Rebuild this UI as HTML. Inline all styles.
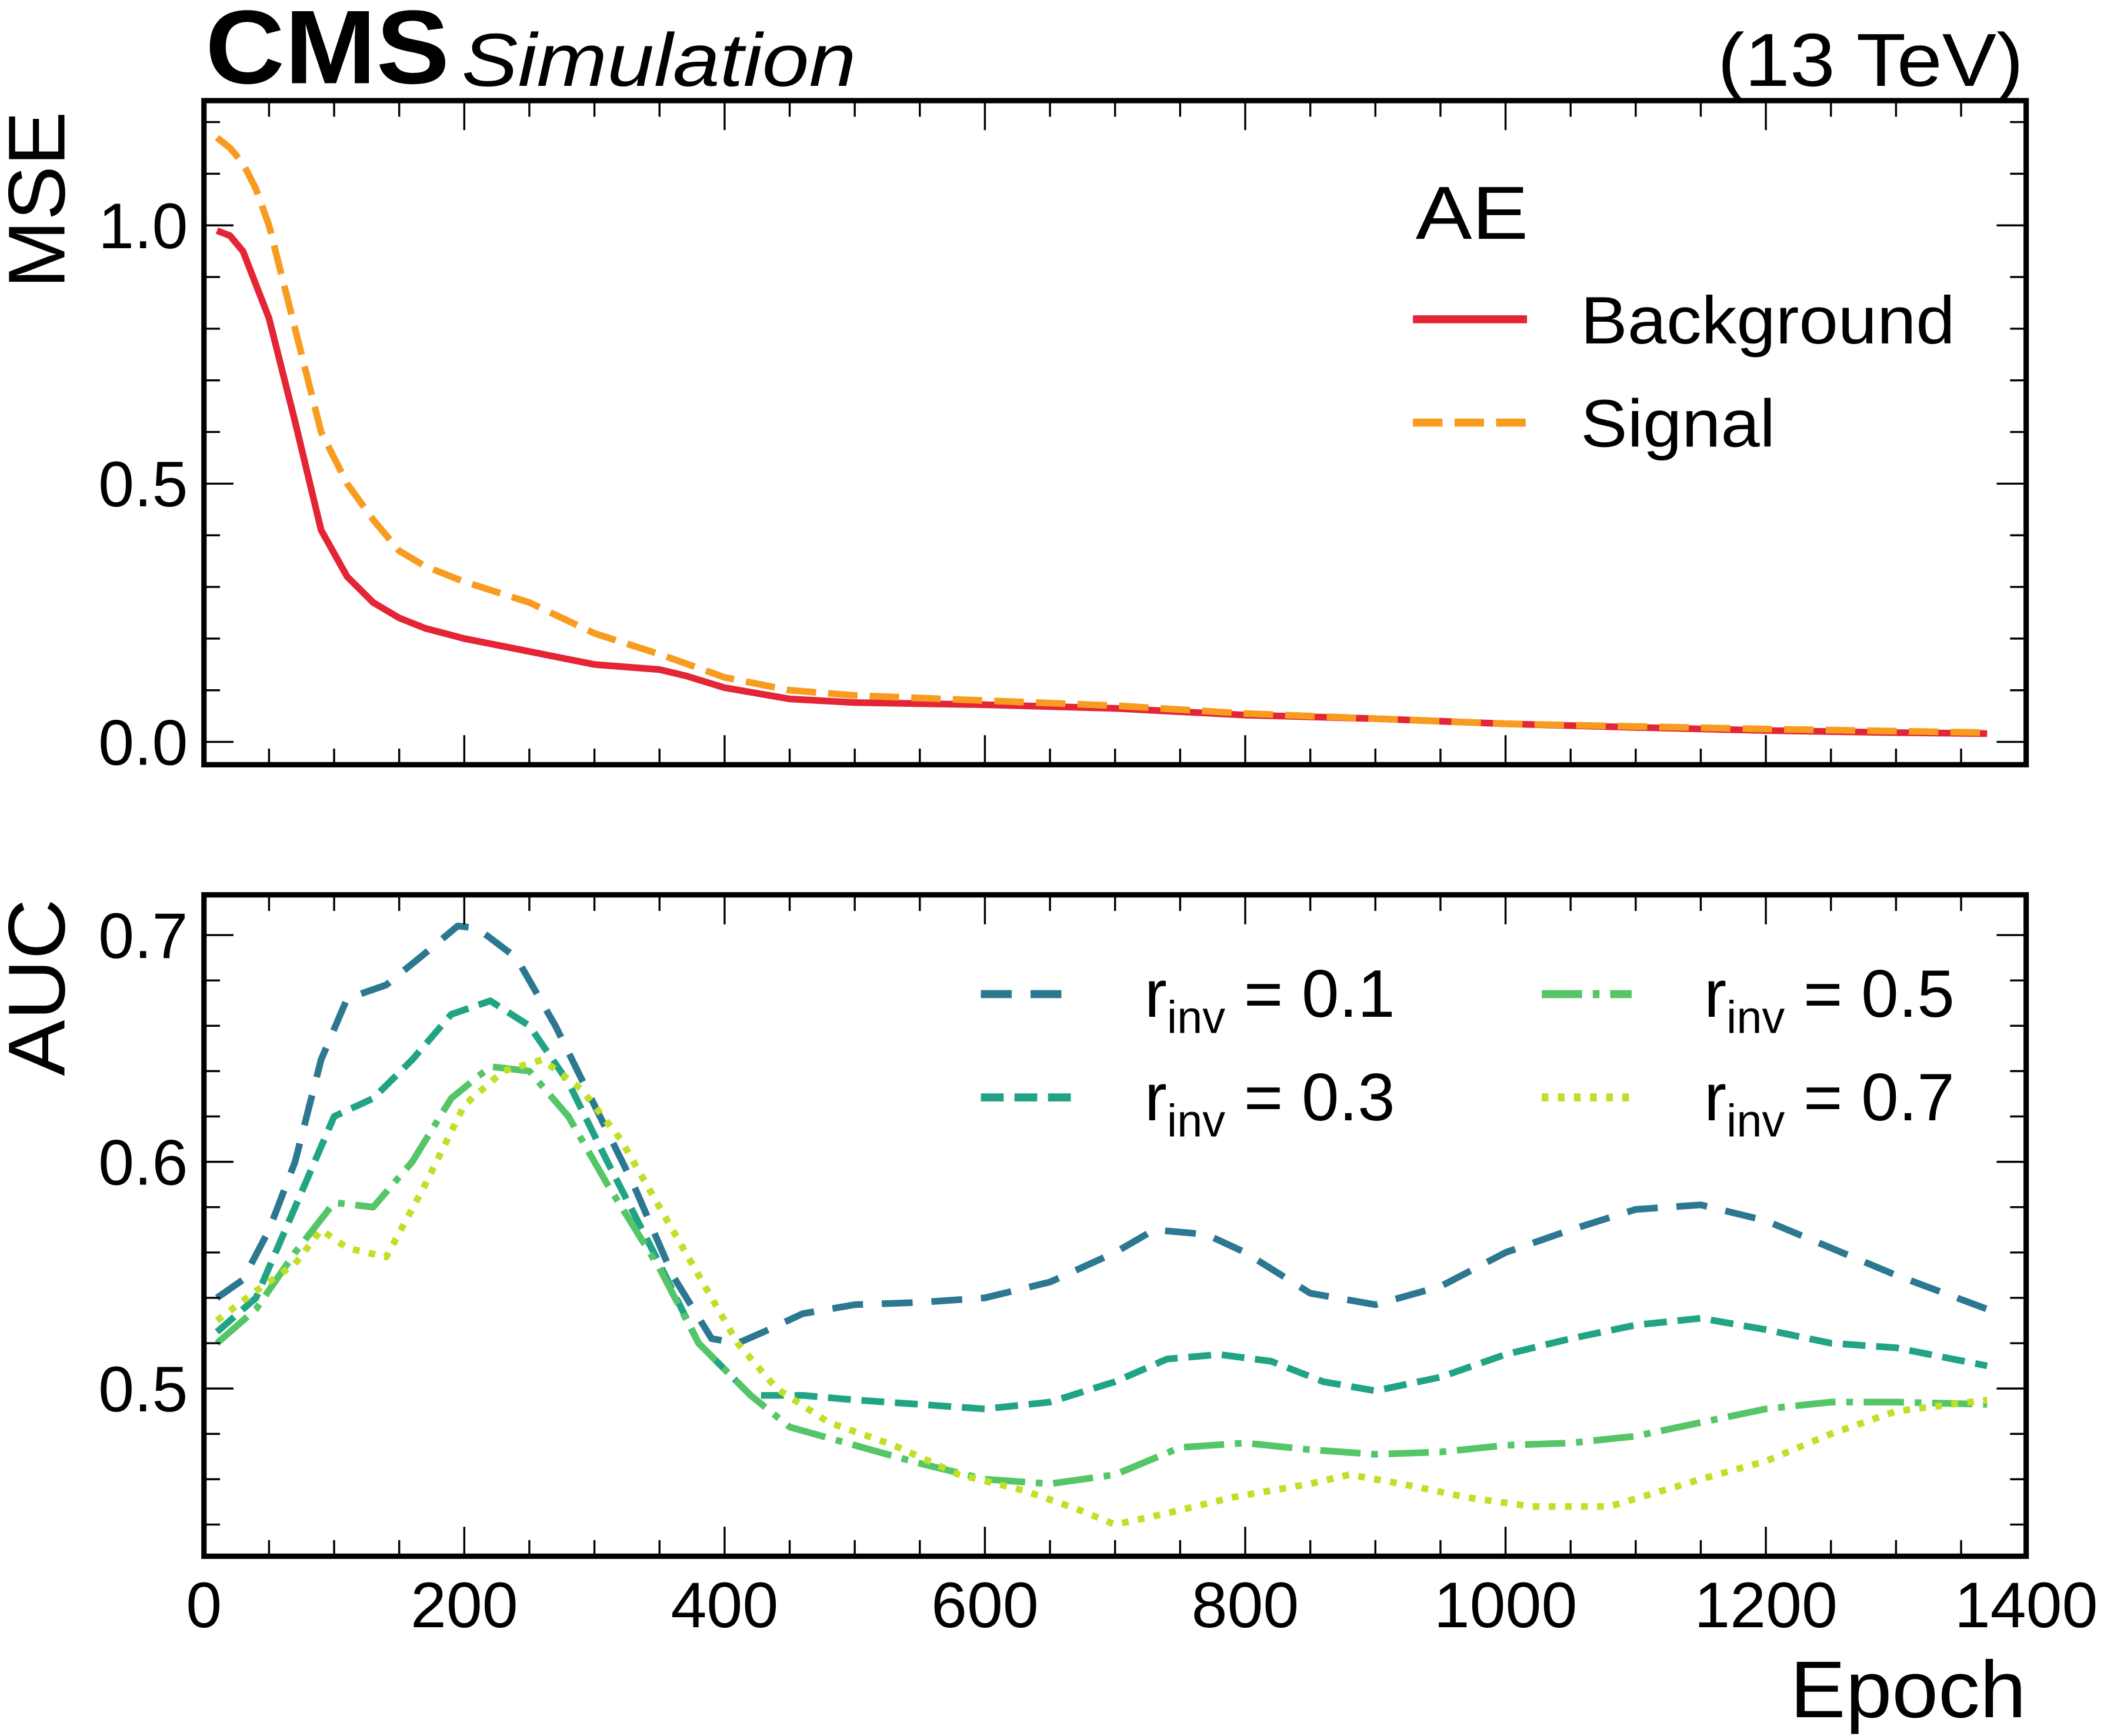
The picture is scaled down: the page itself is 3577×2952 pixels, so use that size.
<!DOCTYPE html>
<html><head><meta charset="utf-8"><style>
html,body{margin:0;padding:0;background:#fff}
svg{display:block}
text{font-family:"Liberation Sans",sans-serif;fill:#000}
</style></head><body>
<svg id="fig" width="3577" height="2952" viewBox="0 0 1568 1294" preserveAspectRatio="none" xmlns="http://www.w3.org/2000/svg">
<rect width="1568" height="1294" fill="#fff"/>
<text x="153" y="62" font-size="78" font-weight="bold" textLength="182" lengthAdjust="spacingAndGlyphs">CMS</text>
<text x="344" y="64" font-size="56" font-style="italic" textLength="294" lengthAdjust="spacingAndGlyphs">Simulation</text>
<text x="1508" y="64" font-size="56" text-anchor="end" textLength="228" lengthAdjust="spacingAndGlyphs">(13 TeV)</text>
<g id="top"></g>
<g id="bot"></g>
<text transform="translate(48,215) rotate(-90)" font-size="60" textLength="132" lengthAdjust="spacingAndGlyphs">MSE</text>
<text transform="translate(48,802) rotate(-90)" font-size="60" textLength="132" lengthAdjust="spacingAndGlyphs">AUC</text>
<text x="1510" y="1280" font-size="60" text-anchor="end" textLength="176" lengthAdjust="spacingAndGlyphs">Epoch</text>
<g>
<text x="1055" y="178" font-size="56" textLength="84" lengthAdjust="spacingAndGlyphs">AE</text>
<line x1="1053" y1="238" x2="1138" y2="238" stroke="#e42536" stroke-width="6"/>
<text x="1178" y="256" font-size="50" textLength="279" lengthAdjust="spacingAndGlyphs">Background</text>
<line x1="1053" y1="315" x2="1138" y2="315" stroke="#f89c20" stroke-width="6" stroke-dasharray="22,9"/>
<text x="1178" y="333" font-size="50" textLength="145" lengthAdjust="spacingAndGlyphs">Signal</text>
</g>
<g>
<line x1="731" y1="741" x2="798" y2="741" stroke="#2c7890" stroke-width="6" stroke-dasharray="23,14"/>
<text x="853" y="758" font-size="50">r<tspan font-size="34" dy="12">inv</tspan><tspan dy="-12"> = 0.1</tspan></text>
<line x1="731" y1="818" x2="798" y2="818" stroke="#21a386" stroke-width="6" stroke-dasharray="17,8"/>
<text x="853" y="835" font-size="50">r<tspan font-size="34" dy="12">inv</tspan><tspan dy="-12"> = 0.3</tspan></text>
<line x1="1149" y1="741" x2="1216" y2="741" stroke="#55c667" stroke-width="6" stroke-dasharray="30,8,5,8"/>
<text x="1270" y="758" font-size="50">r<tspan font-size="34" dy="12">inv</tspan><tspan dy="-12"> = 0.5</tspan></text>
<line x1="1149" y1="818" x2="1216" y2="818" stroke="#c0e027" stroke-width="6" stroke-dasharray="5,7"/>
<text x="1270" y="835" font-size="50">r<tspan font-size="34" dy="12">inv</tspan><tspan dy="-12"> = 0.7</tspan></text>
</g>
</svg>
<script>
const NS="http://www.w3.org/2000/svg";
const xTicks=[0,200,400,600,800,1000,1200,1400];
const mseTicks=[0.0,0.5,1.0];
const aucTicks=[0.5,0.6,0.7];
const bgEpoch=[10,20,30,50,70,90,110,130,150,170,200,250,300,350,370,400,450,500,600,700,800,900,1000,1100,1200,1300,1370];
const bgMSE=[0.99,0.98,0.95,0.82,0.62,0.41,0.32,0.27,0.24,0.22,0.20,0.175,0.15,0.14,0.128,0.105,0.083,0.076,0.072,0.065,0.052,0.045,0.035,0.028,0.022,0.018,0.016];
const sigEpoch=[10,20,30,40,50,60,70,80,90,110,130,150,170,200,250,300,350,400,450,500,600,700,800,900,1000,1100,1200,1370];
const sigMSE=[1.17,1.15,1.12,1.07,1.0,0.9,0.8,0.7,0.6,0.5,0.43,0.37,0.34,0.31,0.27,0.21,0.17,0.125,0.1,0.09,0.08,0.07,0.055,0.045,0.035,0.03,0.025,0.018];
const r1Epoch=[10,30,50,70,90,110,140,170,195,210,240,270,300,330,360,390,410,430,460,500,550,600,650,700,730,770,800,850,900,950,1000,1050,1100,1150,1200,1250,1300,1370];
const r1AUC=[0.54,0.548,0.57,0.60,0.645,0.672,0.678,0.692,0.704,0.703,0.69,0.66,0.625,0.59,0.55,0.522,0.52,0.525,0.533,0.537,0.538,0.54,0.547,0.56,0.57,0.568,0.56,0.542,0.537,0.545,0.56,0.57,0.579,0.581,0.574,0.562,0.55,0.535];
const r3Epoch=[10,40,70,100,130,160,190,220,250,280,310,350,380,420,460,500,550,600,650,700,740,780,820,860,900,950,1000,1050,1100,1150,1200,1250,1300,1370];
const r3AUC=[0.525,0.54,0.58,0.62,0.628,0.645,0.665,0.671,0.66,0.635,0.60,0.555,0.52,0.497,0.497,0.495,0.493,0.491,0.494,0.503,0.513,0.515,0.512,0.503,0.499,0.505,0.515,0.522,0.528,0.531,0.526,0.52,0.518,0.51];
const r5Epoch=[10,40,70,100,130,160,190,220,250,280,310,350,380,420,450,500,550,600,650,700,750,800,850,900,950,1000,1050,1100,1150,1200,1250,1300,1370];
const r5AUC=[0.52,0.535,0.56,0.582,0.58,0.6,0.628,0.642,0.64,0.62,0.59,0.553,0.52,0.497,0.483,0.475,0.467,0.46,0.458,0.462,0.474,0.476,0.473,0.471,0.472,0.475,0.476,0.479,0.485,0.491,0.494,0.494,0.493];
const r7Epoch=[10,40,70,90,110,140,170,200,230,260,290,320,350,380,410,440,480,530,580,630,670,700,740,790,850,880,920,970,1020,1080,1150,1200,1250,1300,1370];
const r7AUC=[0.53,0.543,0.555,0.57,0.562,0.558,0.59,0.625,0.64,0.645,0.632,0.61,0.58,0.55,0.52,0.5,0.485,0.475,0.462,0.455,0.447,0.44,0.445,0.452,0.458,0.462,0.458,0.452,0.448,0.448,0.46,0.468,0.48,0.49,0.495];

const L=152,R=1510;
const X=e=>L+(e/1400)*(R-L);
const Yt=v=>553-v*385;
const Yb=v=>1035-(v-0.5)*1690;
function mk(tag,parent,attrs){const el=document.createElementNS(NS,tag);for(const k in attrs)el.setAttribute(k,attrs[k]);parent.appendChild(el);return el;}

function panel(g,top,bot,Y,yMin,yMax,yMinorStep,yTicks,fmt,showX,nm){
  for(let e=0;e<=1400;e+=50){
    const major=e%200===0, len=major?22:12;
    const a=mk('line',g,{x1:X(e),x2:X(e),y1:bot,y2:bot-len,stroke:'#000','stroke-width':1.5});
    
    
    const b=mk('line',g,{x1:X(e),x2:X(e),y1:top,y2:top+len,stroke:'#000','stroke-width':1.5});
    
    
  }
  const n=Math.round((yMax-yMin)/yMinorStep);
  for(let i=0;i<=n;i++){
    const v=yMin+i*yMinorStep;const y=Y(v);
    if(y<top||y>bot)continue;
    const major=yTicks.some(t=>Math.abs(t-v)<1e-6), len=major?22:12;
    const a=mk('line',g,{x1:L,x2:L+len,y1:y,y2:y,stroke:'#000','stroke-width':1.5});
    
    
    const b=mk('line',g,{x1:R,x2:R-len,y1:y,y2:y,stroke:'#000','stroke-width':1.5});
    
    
  }
  yTicks.forEach(t=>{
    const tx=mk('text',g,{x:L-12,y:Y(t)+17,'font-size':48,'text-anchor':'end'});
    
    
    tx.textContent=fmt(t);
  });
  if(showX) xTicks.forEach(t=>{
    const tx=mk('text',g,{x:X(t),y:1213,'font-size':48,'text-anchor':'middle'});
    
    
    tx.textContent=t;
  });
  const fr=mk('rect',g,{x:L,y:top,width:R-L,height:bot-top,fill:'none',stroke:'#000','stroke-width':4});
  
  
}
function series(g,xs,ys,Y,color,dash,name){
  const d=xs.map((e,i)=>(i?'L':'M')+X(e).toFixed(1)+','+Y(ys[i]).toFixed(1)).join('');
  const p=mk('path',g,{d:d,fill:'none',stroke:color,'stroke-width':5,'stroke-dasharray':dash,'stroke-linejoin':'round'});
  
  
}
const gt=document.getElementById('top'), gb=document.getElementById('bot');
series(gt,bgEpoch,bgMSE,Yt,'#e42536','none','background-line');
series(gt,sigEpoch,sigMSE,Yt,'#f89c20','22,9','signal-line');
panel(gt,75,570,Yt,-0.1,1.3,0.1,mseTicks,v=>v.toFixed(1),false,'mse');
series(gb,r1Epoch,r1AUC,Yb,'#2c7890','23,14','r01-line');
series(gb,r3Epoch,r3AUC,Yb,'#21a386','17,8','r03-line');
series(gb,r5Epoch,r5AUC,Yb,'#55c667','30,8,5,8','r05-line');
series(gb,r7Epoch,r7AUC,Yb,'#c0e027','5,7','r07-line');
panel(gb,667,1160,Yb,0.42,0.72,0.02,aucTicks,v=>v.toFixed(1),true,'auc');
</script>
</body></html>
